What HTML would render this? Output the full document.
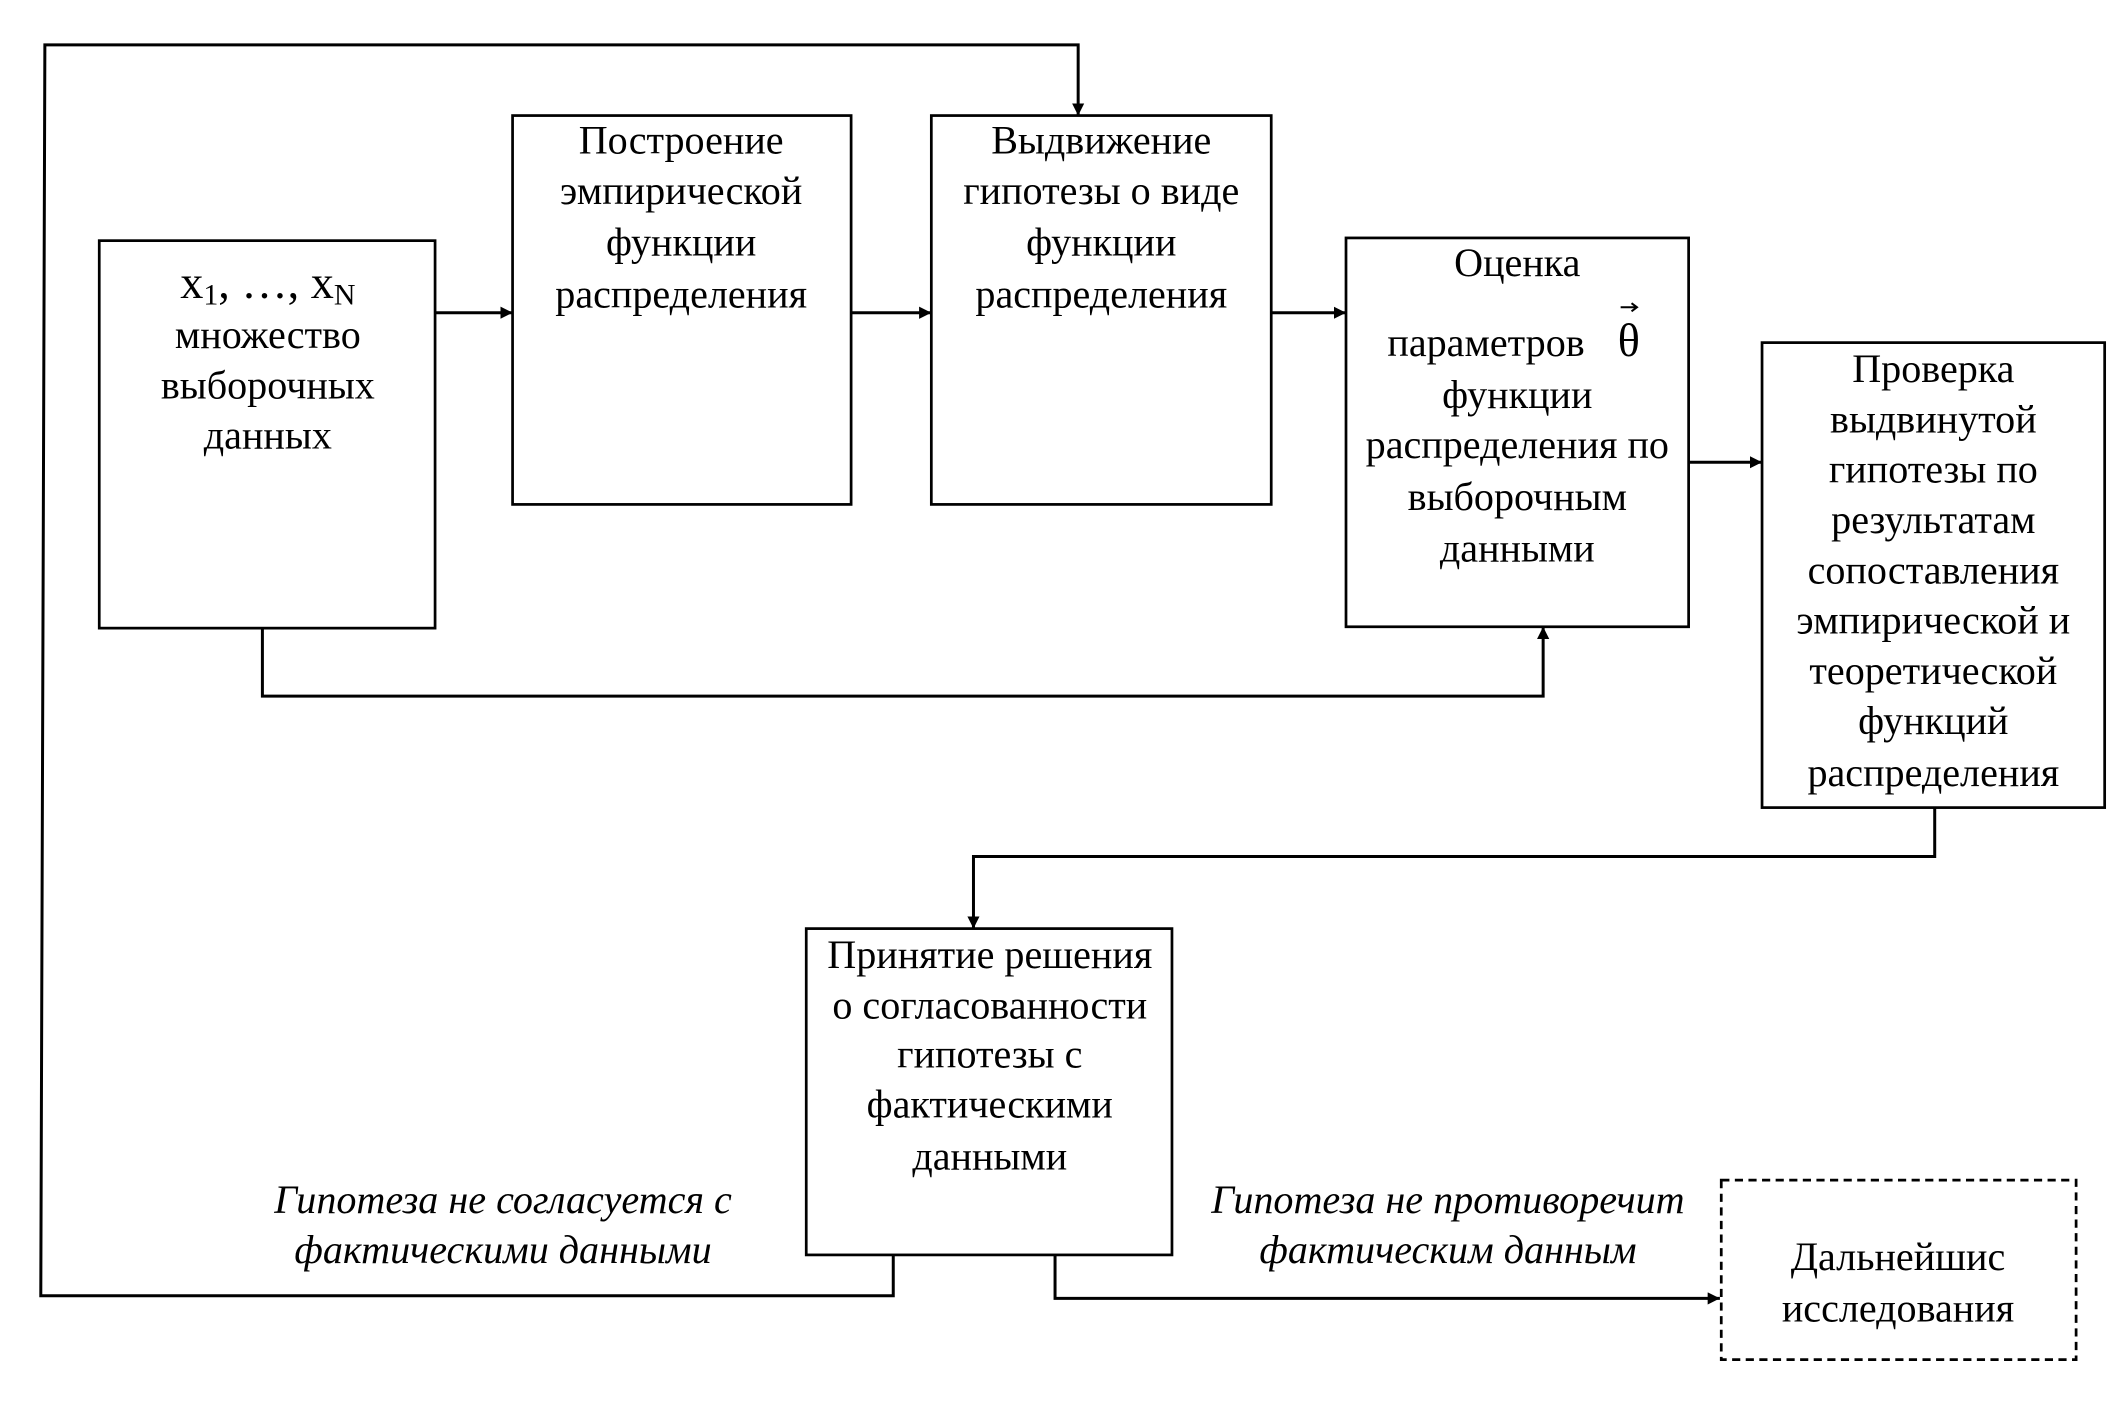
<!DOCTYPE html>
<html><head><meta charset="utf-8"><style>
html,body{margin:0;padding:0;background:#fff;}
svg{display:block;}
text{font-family:"Liberation Serif",serif;fill:#000;}
</style></head><body>
<svg width="2121" height="1405" viewBox="0 0 2121 1405" xmlns="http://www.w3.org/2000/svg">
<defs>
<marker id="a" viewBox="0 0 10 10" refX="10" refY="5" markerWidth="9" markerHeight="9" markerUnits="userSpaceOnUse" orient="auto">
<path d="M0,0 L10,5 L0,10 z" fill="#000"/></marker>
</defs>
<g transform="scale(1.3596)" stroke="#000" stroke-width="2" fill="none">
<!-- boxes -->
<rect x="73" y="177" width="247" height="285"/>
<rect x="377" y="85" width="249" height="286"/>
<rect x="685" y="85" width="250" height="286"/>
<rect x="990" y="175" width="252" height="286"/>
<rect x="1296" y="252" width="252" height="342"/>
<rect x="593" y="683" width="269" height="240"/>
<rect x="1266" y="868" width="261" height="132" stroke-dasharray="6,4"/>
<!-- connectors -->
<g stroke-width="2.2">
<path d="M320,230 L377,230" marker-end="url(#a)" style="marker-end:url(#a)"/>
<path d="M626,230 L685,230" marker-end="url(#a)"/>
<path d="M935,230 L990,230" marker-end="url(#a)"/>
<path d="M1242,340 L1296,340" marker-end="url(#a)"/>
<path d="M193,462 L193,512 L1135,512 L1135,461" marker-end="url(#a)"/>
<path d="M1423,594 L1423,630 L716,630 L716,683" marker-end="url(#a)"/>
<path d="M657,923 L657,953 L30,953 L33,33 L793,33 L793,85" marker-end="url(#a)"/>
<path d="M776,923 L776,955 L1265,955" marker-end="url(#a)"/>
</g>
</g>
<g transform="scale(1.3596)" font-size="29.5" text-anchor="middle">
<text x="197" y="219" font-size="34">x<tspan font-size="22" dy="5">1</tspan><tspan dy="-5">,  …, x</tspan><tspan font-size="22" dy="5">N</tspan></text>
<text x="197" y="256">множество</text>
<text x="197" y="293">выборочных</text>
<text x="197" y="330">данных</text>

<text x="501" y="113">Построение</text>
<text x="501" y="150">эмпирической</text>
<text x="501" y="188">функции</text>
<text x="501" y="226">распределения</text>

<text x="810" y="113">Выдвижение</text>
<text x="810" y="150">гипотезы о виде</text>
<text x="810" y="188">функции</text>
<text x="810" y="226">распределения</text>

<text x="1116" y="203">Оценка</text>
<text x="1093" y="262">параметров</text>
<text x="1198" y="262" font-size="34">θ</text>
<path d="M1192,226 L1204,226 M1200,223 L1204,226 L1200,229" stroke="#000" stroke-width="1.5" fill="none"/>
<text x="1116" y="300">функции</text>
<text x="1116" y="337">распределения по</text>
<text x="1116" y="375">выборочным</text>
<text x="1116" y="413">данными</text>

<text x="1422" y="281">Проверка</text>
<text x="1422" y="318">выдвинутой</text>
<text x="1422" y="355">гипотезы по</text>
<text x="1422" y="392">результатам</text>
<text x="1422" y="429">сопоставления</text>
<text x="1422" y="466">эмпирической и</text>
<text x="1422" y="503">теоретической</text>
<text x="1422" y="540">функций</text>
<text x="1422" y="578">распределения</text>

<text x="728" y="712">Принятие решения</text>
<text x="728" y="749">о согласованности</text>
<text x="728" y="785">гипотезы с</text>
<text x="728" y="822">фактическими</text>
<text x="728" y="860">данными</text>

<text x="1396" y="934">Дальнейшис</text>
<text x="1396" y="972">исследования</text>

<g font-style="italic">
<text x="370" y="892">Гипотеза не согласуется с</text>
<text x="370" y="929">фактическими данными</text>
<text x="1065" y="892">Гипотеза не противоречит</text>
<text x="1065" y="929">фактическим данным</text>
</g>
</g>
</svg>
</body></html>
